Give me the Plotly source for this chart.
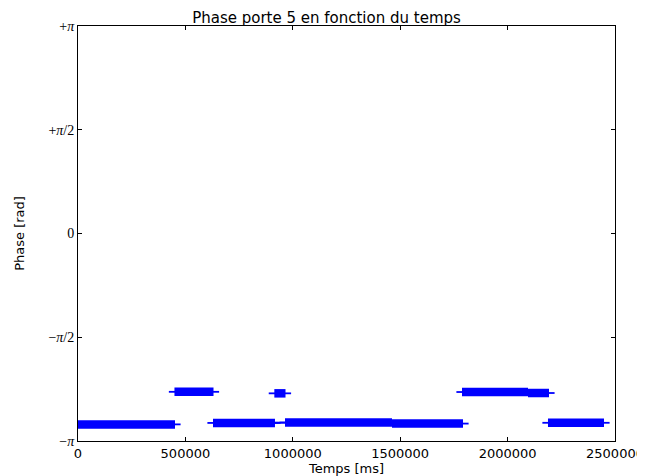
import math
import plotly.graph_objects as go

# Segments of the phase signal (time in ms, phase in rad)
seg_start = [0, 449000, 628500, 914000, 963700, 1461800, 1787700, 2095000, 2188000]
seg_end = [451600, 630800, 917000, 966000, 1461800, 1792400, 2095000, 2192700, 2448800]
seg_phase = [-2.89, -2.397, -2.868, -2.42, -2.862, -2.878, -2.40, -2.415, -2.866]

# Isolated samples
iso_t = [907800, 942700]
iso_phase = [-2.866, -2.864]

ytick_vals = [-math.pi, -math.pi / 2, 0, math.pi / 2, math.pi]
ytick_text = ["\u2212<i>\u03c0</i>", "\u2212<i>\u03c0</i>/2", "0", "+<i>\u03c0</i>/2", "+<i>\u03c0</i>"]
xtick_vals = [0, 500000, 1000000, 1500000, 2000000, 2500000]
xtick_text = ["0", "500000", "1000000", "1500000", "2000000", "2500000"]

bx, by = [], []
for s, e, p in zip(seg_start, seg_end, seg_phase):
    bx += [s, e, None]
    by += [p, p, None]

mx, my = [], []
for s, e, p in zip(seg_start, seg_end, seg_phase):
    mx += [s, e]
    my += [p, p]
mx += iso_t
my += iso_phase

fig = go.Figure()
fig.add_trace(go.Scatter(x=bx, y=by, mode="lines",
                         line=dict(color="#0000ff", width=8.5),
                         hoverinfo="skip", showlegend=False))
fig.add_trace(go.Scatter(x=mx, y=my, mode="markers",
                         marker=dict(symbol="line-ew", size=8,
                                     line=dict(color="#0000ff", width=1.8)),
                         showlegend=False))

# page body has an 8px margin: compensate so the plot lands where the reference has it
fig.update_layout(
    width=637, height=468,
    margin=dict(l=70, r=30, t=18, b=35),
    paper_bgcolor="white", plot_bgcolor="white",
    title=dict(text="Phase porte 5 en fonction du temps", x=0.5, xanchor="center",
               y=0.979, yanchor="middle", font=dict(family="DejaVu Sans", size=15, color="black")),
    font=dict(family="DejaVu Sans", color="black"),
)
fig.update_xaxes(range=[0, 2500000], tickvals=xtick_vals, ticktext=xtick_text, automargin=False,
                 showgrid=False, zeroline=False, showline=True, linecolor="black", linewidth=1,
                 mirror="ticks", ticks="inside", ticklen=4, tickcolor="black",
                 tickfont=dict(family="DejaVu Sans", size=13, color="black"),
                 title=dict(text="Temps [ms]", standoff=2, font=dict(family="DejaVu Sans", size=13)))
fig.update_yaxes(range=[-math.pi, math.pi], tickvals=ytick_vals, ticktext=ytick_text, automargin=False,
                 showgrid=False, zeroline=False, showline=True, linecolor="black", linewidth=1,
                 mirror="ticks", ticks="inside", ticklen=4, tickcolor="black",
                 tickfont=dict(family="Liberation Serif", size=14, color="black"),
                 title=dict(text="Phase [rad]", standoff=20, font=dict(family="DejaVu Sans", size=13)))

fig.write_html("out.html")
